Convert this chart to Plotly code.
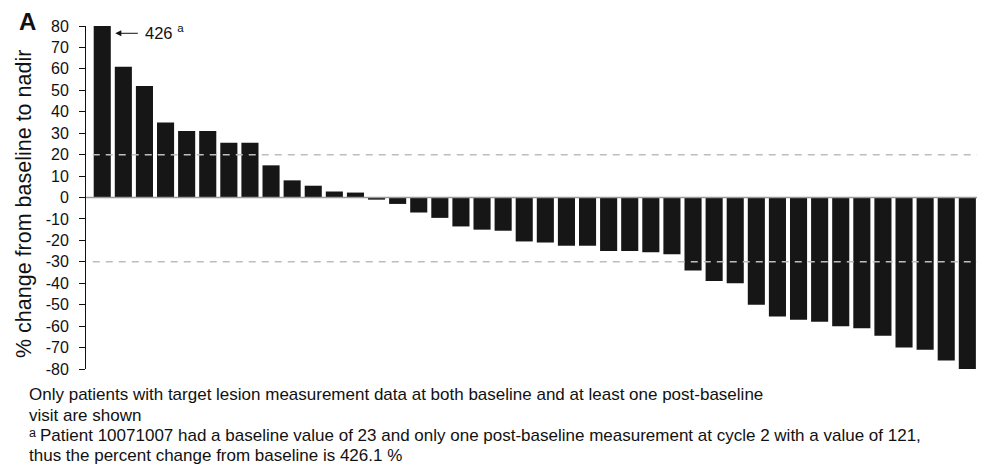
import plotly.graph_objects as go

patients = list(range(1, 43))
pct_change = [426.1, 61, 52, 35, 31, 31, 25.5, 25.5, 15, 8, 5.5, 2.8, 2.3,
              -1, -3, -7, -9.5, -13.5, -15, -15.5, -20.5, -21, -22.5, -22.5,
              -25, -25, -25.5, -26.5, -34, -39, -40, -50, -55.5, -57, -58,
              -60, -61, -64.5, -70, -71, -76, -80]
tick_vals = [80, 70, 60, 50, 40, 30, 20, 10, 0, -10, -20, -30, -40, -50, -60, -70, -80]
tick_text = [str(v) if v >= 0 else "-" + str(-v) for v in tick_vals]
thresholds = [20, -30]

FONT = "Liberation Sans, Arial, Helvetica, sans-serif"

fig = go.Figure()
fig.add_trace(go.Bar(
    x=list(range(len(pct_change))), y=pct_change,
    marker=dict(color="#161616", line=dict(width=0)),
    hoverinfo="y", showlegend=False,
))

shapes = []
for t in thresholds:
    shapes.append(dict(type="line", xref="x", yref="y", x0=-0.45, x1=41.8, y0=t, y1=t,
                       line=dict(color="#bdbdbd", width=1.5, dash="7px,6px"), layer="above"))
shapes.append(dict(type="line", xref="paper", yref="y", x0=0, x1=0.998, y0=0, y1=0,
                   line=dict(color="#999999", width=1.5), layer="above"))


def px_x(p):
    return (p - 86) / 898


def px_y(p):
    return 1 - (p - 26) / 343


annotations = [
    dict(x=0.62, y=76.6, xref="x", yref="y", ax=24, ay=0, axref="pixel", ayref="pixel",
         text="", showarrow=True, arrowhead=2, arrowsize=1.2, arrowwidth=1, arrowcolor="#111"),
    dict(x=1.95, y=77.3, xref="x", yref="y", xanchor="left", yanchor="middle",
         text="426 <sup>a</sup>", showarrow=False, font=dict(size=16.5, color="#111", family=FONT)),
    dict(x=-0.077, y=1.012, xref="paper", yref="paper", xanchor="left", yanchor="middle",
         text="<b>A</b>", showarrow=False, font=dict(size=24, color="#111", family=FONT)),
    dict(x=px_x(24), y=px_y(204), xref="paper", yref="paper",
         xanchor="center", yanchor="middle", textangle=-90, showarrow=False,
         text="% change from baseline to nadir",
         font=dict(size=21.5, color="#111", family=FONT)),
    dict(x=px_x(27), y=px_y(433), xref="paper", yref="paper", xanchor="left", yanchor="middle",
         text="a", showarrow=False, font=dict(size=12.5, color="#111", family=FONT)),
]

foot = [
    "Only patients with target lesion measurement data at both baseline and at least one post-baseline",
    "visit are shown",
    "Patient 10071007 had a baseline value of 23 and only one post-baseline measurement at cycle 2 with a value of 121,",
    "thus the percent change from baseline is 426.1 %",
]
foot_x = [27, 27, 38, 27]
foot_y = [395, 415, 435, 455]
for txt, qx, py in zip(foot, foot_x, foot_y):
    annotations.append(dict(x=px_x(qx), y=px_y(py), xref="paper", yref="paper",
                            xanchor="left", yanchor="middle", text=txt, showarrow=False,
                            font=dict(size=17, color="#111", family=FONT)))

fig.update_layout(
    width=977, height=457,
    margin=dict(l=78, r=1, t=18, b=96, autoexpand=False),
    paper_bgcolor="white", plot_bgcolor="white",
    bargap=0.19,
    shapes=shapes, annotations=annotations,
    font=dict(family=FONT, color="#111"),
    xaxis=dict(range=[-0.77, 41.79], showticklabels=False, ticks="", showgrid=False,
               zeroline=False, showline=False, automargin=False),
    yaxis=dict(range=[-80, 80], tickmode="array", tickvals=tick_vals, ticktext=tick_text,
               ticks="outside", ticklen=6, tickcolor="#111", tickwidth=1,
               showline=True, linecolor="#111", linewidth=1, showgrid=False, zeroline=False,
               ticklabelstandoff=7, automargin=False,
               tickfont=dict(size=16, color="#111", family=FONT)),
)

fig.write_html("out.html")
